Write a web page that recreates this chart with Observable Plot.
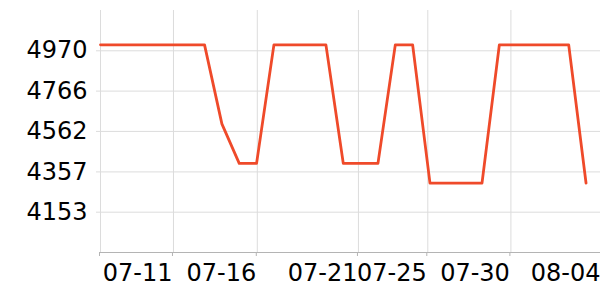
<!DOCTYPE html>
<html>
<head>
<meta charset="utf-8">
<script src="https://cdn.jsdelivr.net/npm/d3@7"></script>
<script src="https://cdn.jsdelivr.net/npm/@observablehq/plot@0.6"></script>
<style>
  html, body { margin: 0; padding: 0; background: #fff; overflow: hidden; }
  svg { display: block; }
</style>
</head>
<body>
<div id="chart"></div>
<script>
// Daily observations
const dates = [
  "2024-07-07", "2024-07-08", "2024-07-09", "2024-07-10", "2024-07-11",
  "2024-07-12", "2024-07-13", "2024-07-14", "2024-07-15", "2024-07-16",
  "2024-07-17", "2024-07-18", "2024-07-19", "2024-07-20", "2024-07-21",
  "2024-07-22", "2024-07-23", "2024-07-24", "2024-07-25", "2024-07-26",
  "2024-07-27", "2024-07-28", "2024-07-29", "2024-07-30", "2024-07-31",
  "2024-08-01", "2024-08-02", "2024-08-03", "2024-08-04"
];
const values = [
  5000, 5000, 5000, 5000, 5000, 5000, 5000, 4600, 4400, 4400,
  5000, 5000, 5000, 5000, 4400, 4400, 4400, 5000, 5000, 4300,
  4300, 4300, 4300, 5000, 5000, 5000, 5000, 5000, 4300
];

// Axis ticks as they appear in the reference
const xDomain = ["2024-07-07T00:00Z", "2024-08-04T20:00Z"];
const xTickTimes = [
  "2024-07-07T00:00Z", "2024-07-11T05:00Z", "2024-07-16T01:00Z",
  "2024-07-21T21:00Z", "2024-07-25T21:00Z", "2024-07-30T16:00Z",
  "2024-08-04T21:30Z"
];
const xTickLabels = ["", "07-11", "07-16", "07-21", "07-25", "07-30", "08-04"];
const yDomain = [3949, 5174];
const yTicks = [4153, 4357, 4562, 4766, 4970];

const data = dates.map((d, i) => ({date: new Date(d + "T00:00Z"), value: values[i]}));
const xTicks = xTickTimes.map(t => new Date(t));
const labelOf = d => {
  const k = xTicks.findIndex(t => +t === +d);
  return k >= 0 ? xTickLabels[k] : "";
};

const chart = Plot.plot({
  width: 600,
  height: 300,
  marginLeft: 100,
  marginRight: 0,
  marginTop: 10,
  marginBottom: 48,
  style: {fontFamily: "DejaVu Sans", fontSize: "24px", color: "#000", background: "#fff", overflow: "visible"},
  x: {type: "utc", domain: xDomain.map(t => new Date(t))},
  y: {domain: yDomain},
  marks: [
    Plot.gridX(xTicks, {stroke: "#dcdcdc", strokeOpacity: 1, strokeWidth: 1}),
    Plot.gridY(yTicks, {stroke: "#dcdcdc", strokeOpacity: 1, strokeWidth: 1}),
    Plot.axisY(yTicks, {tickSize: 4, tickPadding: 9, stroke: "#dcdcdc", fill: "#000", tickFormat: d => String(d), label: null}),
    Plot.axisX(xTicks, {tickSize: 4, tickPadding: 7, stroke: "#b4b4b4", fill: "#000", textAnchor: "end", dx: -1, tickFormat: labelOf, label: null}),
    Plot.ruleY([yDomain[0]], {stroke: "#b4b4b4", strokeWidth: 1.2}),
    Plot.line(data, {x: "date", y: "value", stroke: "#ef4a2a", strokeWidth: 2.8, curve: "linear"})
  ]
});
document.getElementById("chart").appendChild(chart);
</script>
</body>
</html>
